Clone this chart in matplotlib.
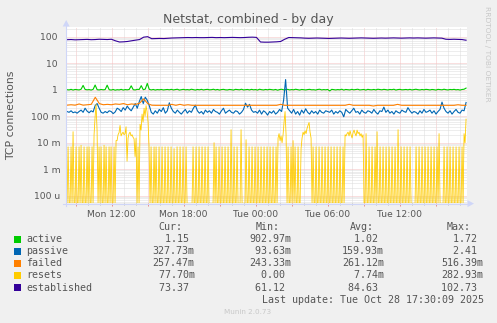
import numpy as np
import matplotlib
matplotlib.use("Agg")
import matplotlib.pyplot as plt
from matplotlib.ticker import FixedLocator, LogLocator, NullFormatter, MultipleLocator
from matplotlib.patches import Rectangle, Polygon
from matplotlib.lines import Line2D

# ---------------- data ----------------
series_names = ["active", "passive", "failed", "resets", "established"]
series_colors = ["#00CC00", "#0066B3", "#FF8000", "#FFCC00", "#330099"]

# hours since Mon 00:00 covered by the samples
t_start, t_end = 8.28, 41.53

active = [
    1.00, 0.98, 1.03, 0.97, 1.02, 1.00, 0.98, 1.04, 1.45, 1.02,
    0.99, 1.01, 0.97, 1.03, 1.50, 1.00, 0.98, 1.02, 0.99, 1.01,
    1.48, 1.00, 0.97, 1.02, 0.96, 1.00, 0.98, 1.03, 0.97, 1.01,
    0.99, 1.02, 1.40, 1.00, 0.98, 1.03, 1.02, 1.42, 1.00, 1.05,
    1.72, 1.03, 0.98, 1.02, 0.97, 1.01, 0.99, 1.02, 0.98, 1.00,
    1.02, 0.99, 1.03, 0.98, 1.01, 1.04, 0.97, 1.00, 1.03, 0.99,
    1.01, 0.98, 1.04, 1.00, 0.97, 1.02, 0.99, 1.03, 0.98, 1.01,
    1.03, 0.99, 1.00, 1.04, 0.98, 1.02, 0.97, 1.01, 1.03, 0.99,
    0.98, 1.02, 1.00, 0.97, 1.03, 1.01, 0.99, 1.04, 0.98, 1.00,
    1.02, 0.98, 1.03, 0.99, 1.01, 0.97, 1.04, 1.00, 0.98, 1.02,
    0.99, 1.03, 1.00, 0.98, 1.02, 0.96, 1.01, 1.04, 0.99, 1.00,
    1.03, 0.98, 1.01, 0.99, 1.04, 1.00, 0.97, 1.02, 1.00, 0.98,
    1.01, 1.03, 0.99, 1.00, 0.97, 1.02, 1.04, 0.98, 1.01, 0.99,
    1.02, 0.90, 1.03, 1.00, 0.98, 1.01, 0.99, 1.04, 0.97, 1.02,
    1.00, 0.98, 1.03, 0.99, 1.01, 1.04, 0.98, 1.00, 1.02, 0.97,
    1.03, 1.00, 0.99, 1.02, 0.98, 1.04, 1.01, 0.99, 1.03, 1.00,
    0.98, 1.02, 1.00, 1.04, 0.97, 1.01, 1.03, 0.99, 1.00, 1.02,
    0.99, 1.03, 0.98, 1.01, 1.04, 1.00, 0.98, 1.02, 0.99, 1.03,
    1.01, 0.98, 1.02, 1.00, 0.97, 1.03, 1.01, 0.99, 1.04, 1.00,
    0.98, 1.02, 1.00, 1.03, 0.99, 1.01, 0.97, 1.02, 1.04, 1.15,
]

passive_milli = [
    150, 140, 160, 135, 145, 130, 150, 170, 140, 200,
    155, 135, 160, 145, 250, 300, 200, 140, 130, 150,
    135, 160, 150, 125, 145, 200, 180, 150, 210, 170,
    240, 190, 160, 220, 300, 200, 350, 550, 300, 520,
    400, 250, 140, 120, 160, 130, 180, 150, 210, 130,
    160, 320, 200, 150, 130, 170, 140, 120, 150, 180,
    130, 160, 140, 200, 260, 160, 130, 150, 120, 170,
    140, 160, 130, 180, 150, 140, 120, 160, 200, 130,
    150, 170, 140, 130, 160, 150, 120, 140, 180, 310,
    220, 280, 170, 140, 150, 130, 170, 120, 160, 140,
    110, 150, 130, 160, 120, 140, 180, 150, 400, 2410,
    200, 160, 130, 180, 120, 150, 110, 170, 130, 190,
    140, 120, 160, 130, 150, 120, 170, 140, 130, 160,
    150, 140, 170, 120, 150, 130, 160, 140, 95, 180,
    150, 130, 160, 200, 140, 150, 120, 170, 140, 130,
    160, 150, 130, 180, 140, 120, 160, 150, 220, 140,
    170, 130, 150, 120, 160, 140, 130, 170, 150, 140,
    210, 160, 130, 150, 140, 120, 160, 130, 180, 140,
    150, 170, 130, 160, 120, 150, 180, 340, 200, 150,
    130, 160, 120, 150, 180, 140, 130, 170, 160, 330,
]

failed = [
    0.260, 0.270, 0.260, 0.290, 0.260, 0.270, 0.280, 0.516, 0.300, 0.270,
    0.280, 0.270, 0.290, 0.280, 0.300, 0.270, 0.290, 0.280, 0.310, 0.450,
    0.300, 0.260, 0.257, 0.257, 0.257, 0.257, 0.280, 0.257, 0.280, 0.257,
    0.270, 0.257, 0.257, 0.257, 0.257, 0.257, 0.257, 0.257, 0.257, 0.257,
    0.257, 0.257, 0.257, 0.257, 0.257, 0.257, 0.257, 0.257, 0.257, 0.257,
    0.257, 0.257, 0.257, 0.280, 0.257, 0.257, 0.257, 0.257, 0.257, 0.257,
    0.257, 0.257, 0.257, 0.257, 0.257, 0.257, 0.257, 0.257, 0.257, 0.257,
    0.280, 0.257, 0.257, 0.257, 0.257, 0.257, 0.243, 0.257, 0.257, 0.257,
    0.257, 0.257, 0.280, 0.257, 0.257, 0.257, 0.257, 0.257, 0.257, 0.257,
    0.257, 0.257, 0.257, 0.257, 0.257, 0.257, 0.257, 0.270, 0.257, 0.257,
]

resets_milli = [
    0, 7, 0, 0, 7, 0, 26, 0, 0, 7,
    0, 0, 7, 0, 8, 0, 0, 7, 0, 0,
    7, 0, 7, 0, 0, 7, 0, 20, 90, 283,
    30, 0, 7, 0, 7, 0, 0, 8, 0, 7,
    0, 0, 7, 0, 7, 0, 0, 7, 0, 12,
    12, 20, 24, 45, 18, 22, 25, 20, 22, 40,
    2, 15, 22, 25, 18, 20, 16, 14, 3, 15,
    0, 7, 0, 50, 30, 120, 60, 200, 100, 250,
    150, 60, 7, 0, 7, 0, 0, 7, 0, 7,
    0, 0, 7, 0, 0, 7, 0, 0, 7, 0,
    0, 7, 0, 0, 7, 0, 0, 6, 0, 0,
    7, 0, 0, 7, 0, 0, 7, 0, 0, 7,
    0, 0, 0, 0, 0, 0, 7, 0, 0, 7,
    0, 0, 7, 0, 0, 7, 0, 0, 7, 0,
    0, 7, 0, 0, 0, 0, 0, 10, 0, 7,
    0, 0, 7, 0, 0, 7, 0, 0, 7, 0,
    0, 7, 0, 0, 31, 0, 0, 7, 0, 0,
    7, 0, 0, 0, 31, 0, 0, 0, 0, 13,
    0, 0, 7, 0, 0, 7, 0, 0, 7, 0,
    0, 7, 0, 0, 7, 0, 0, 7, 0, 0,
    7, 0, 0, 7, 0, 0, 7, 0, 0, 7,
    0, 15, 22, 12, 18, 10, 20, 60, 150, 20,
    0, 7, 0, 0, 7, 0, 12, 0, 7, 0,
    0, 7, 0, 0, 6, 15, 25, 20, 28, 22,
    35, 45, 58, 25, 15, 0, 7, 0, 0, 7,
    0, 0, 7, 0, 0, 7, 0, 0, 7, 0,
    0, 7, 0, 0, 7, 0, 0, 7, 0, 0,
    7, 0, 0, 7, 0, 0, 7, 0, 20, 18,
    22, 25, 18, 28, 20, 15, 24, 30, 22, 18,
    30, 22, 25, 18, 22, 16, 20, 0, 0, 22,
    0, 0, 7, 0, 0, 7, 0, 0, 7, 0,
    26, 0, 0, 7, 0, 0, 7, 0, 0, 7,
    0, 0, 7, 0, 0, 7, 0, 0, 7, 0,
    0, 31, 0, 0, 7, 0, 0, 7, 0, 0,
    7, 0, 0, 7, 0, 0, 0, 0, 0, 7,
    0, 0, 7, 0, 0, 7, 0, 0, 7, 0,
    0, 7, 0, 0, 7, 0, 0, 7, 0, 0,
    7, 0, 22, 0, 0, 0, 0, 7, 0, 0,
    7, 0, 0, 7, 0, 0, 7, 0, 0, 7,
    0, 0, 7, 0, 0, 7, 0, 22, 10, 78,
]

established = [
    77, 78, 76, 77, 78, 79, 77, 78, 80, 79, 78, 80,
    70, 63, 64,
    66, 70, 74, 78,
    96, 100,
    84, 85, 86, 85, 87, 89, 90, 91,
    92, 93, 92, 93, 92, 92, 93, 94, 92, 93, 92, 93, 94, 93, 92, 93, 95, 96,
    94,
    63, 62, 62, 63, 64, 66,
    80,
    93, 92, 91, 90,
    88, 87, 88, 89, 88, 87, 86, 87, 88, 89, 88, 87, 88, 89, 90, 89, 88, 87,
    88, 89, 88, 89, 90, 89, 88, 89, 90, 89, 90, 89, 88, 89, 90, 89, 88,
    80, 79, 80, 79, 78, 73.37,
]

legend_cur = ["  1.15 ", "327.73m", "257.47m", " 77.70m", " 73.37 "]
legend_min = ["902.97m", " 93.63m", "243.33m", "  0.00 ", " 61.12 "]
legend_avg = ["  1.02 ", "159.93m", "261.12m", "  7.74m", " 84.63 "]
legend_max = ["  1.72 ", "  2.41 ", "516.39m", "282.93m", "102.73 "]

y_tick_values = [1e-4, 1e-3, 1e-2, 1e-1, 1, 10, 100]
y_tick_labels = ["100 u", "1 m", "10 m", "100 m", "1 ", "10 ", "100 "]
x_tick_hours = [9, 12, 15, 18, 21, 24, 27, 30, 33, 36, 39]
x_tick_labels = ["", "Mon 12:00", "", "Mon 18:00", "", "Tue 00:00", "",
                 "Tue 06:00", "", "Tue 12:00", ""]

title = "Netstat, combined - by day"
ylabel = "TCP connections"
last_update = "Last update: Tue Oct 28 17:30:09 2025"

# ---------------- figure ----------------
W, H = 497, 323
fig = plt.figure(figsize=(W / 100, H / 100), dpi=100, facecolor="#F0F0F0")


def fx(x):
    return x / W


def fy(y):
    return 1 - y / H


L, R, T, B = 66.7, 466.7, 27.3, 203.3
YMIN, YMAX = 5.17e-5, 226
ax = fig.add_axes([fx(L), fy(B), (R - L) / W, (B - T) / H])
ax.set_facecolor("white")
ax.set_yscale("log")
ax.set_ylim(YMIN, YMAX)
ax.set_xlim(8.25, 41.583)
for s in ax.spines.values():
    s.set_visible(False)

# grid
ax.set_axisbelow(True)
ax.xaxis.set_major_locator(FixedLocator(x_tick_hours))
ax.xaxis.set_minor_locator(MultipleLocator(1))
ax.set_xticklabels(x_tick_labels)
ax.yaxis.set_major_locator(FixedLocator(y_tick_values))
ax.yaxis.set_minor_locator(LogLocator(base=10, subs=np.arange(2, 10), numticks=30))
ax.yaxis.set_minor_formatter(NullFormatter())
ax.set_yticklabels(y_tick_labels)
ax.grid(which="major", color="#F4C0C0", ls=(0, (1, 1)), lw=0.72)
ax.grid(which="minor", color="#DCDCDC", ls=(0, (1, 1)), lw=0.72)
ax.tick_params(axis="x", which="major", length=2, width=0.72, color="#E89090",
               labelsize=6.6, labelcolor="#555555", pad=2.5)
ax.tick_params(axis="x", which="minor", length=1.5, width=0.72, color="#BBBBBB")
ax.tick_params(axis="y", which="both", length=0, labelsize=6.6,
               labelcolor="#555555", pad=4.5)

# lines (rrdtool drawing order)
data_list = [np.array(active), np.array(passive_milli) / 1000.0, np.array(failed),
             np.array(resets_milli) / 1000.0, np.array(established)]
widths = [0.8, 0.8, 0.8, 0.6, 0.8]
for vals, c, w in zip(data_list, series_colors, widths):
    t = np.linspace(t_start, t_end, len(vals))
    ax.plot(t, np.clip(vals, YMIN, None), color=c, lw=w, zorder=3)

# axis lines with arrows
axis_col = "#CFD6F8"
fig.add_artist(Line2D([fx(66.2), fx(66.2)], [fy(206), fy(25)], color=axis_col,
                      lw=0.8, transform=fig.transFigure))
fig.add_artist(Polygon([[fx(66.2), fy(20)], [fx(62.7), fy(26.5)], [fx(69.7), fy(26.5)]],
                       closed=True, color=axis_col, transform=fig.transFigure, lw=0))
fig.add_artist(Line2D([fx(63), fx(468)], [fy(203.6), fy(203.6)], color=axis_col,
                      lw=0.8, transform=fig.transFigure))
fig.add_artist(Polygon([[fx(474), fy(203.6)], [fx(467.5), fy(200.1)], [fx(467.5), fy(207.1)]],
                       closed=True, color=axis_col, transform=fig.transFigure, lw=0))

# texts
txt = "#555555"
fig.text(fx(248.5), fy(19), title, ha="center", va="center", fontsize=9, color=txt)
fig.text(fx(11), fy(115), ylabel, rotation=90, ha="center", va="center",
         fontsize=7.8, color=txt)
fig.text(fx(487), fy(53.5), "RRDTOOL / TOBI OETIKER", rotation=270, ha="center",
         va="center", fontsize=5.4, color="#C8C8C8")
fig.text(fx(248), fy(312), "Munin 2.0.73", ha="center", va="center", fontsize=5.2,
         color="#C8C8C8")

mono = dict(family="DejaVu Sans Mono", fontsize=7.18, color=txt, va="center")
header_y = 226.7
for label, x in [("Cur:", 158.5), ("Min:", 255.3), ("Avg:", 349.5), ("Max:", 447)]:
    fig.text(fx(x), fy(header_y), label, ha="left", **mono)

row_y = [239.3, 251.5, 263.5, 275.5, 287.7]
for i, name in enumerate(series_names):
    y = row_y[i]
    fig.add_artist(Rectangle((fx(14), fy(y + 3.3)), 6.7 / W, 6.7 / H,
                             color=series_colors[i], transform=fig.transFigure, lw=0))
    fig.text(fx(26.3), fy(y), name, ha="left", **mono)
    fig.text(fx(152.7), fy(y), legend_cur[i], ha="left", **mono)
    fig.text(fx(249.3), fy(y), legend_min[i], ha="left", **mono)
    fig.text(fx(342), fy(y), legend_avg[i], ha="left", **mono)
    fig.text(fx(441), fy(y), legend_max[i], ha="left", **mono)

fig.text(fx(484), fy(300), last_update, ha="right", **mono)

fig.savefig("out.png", dpi=100, facecolor=fig.get_facecolor())
